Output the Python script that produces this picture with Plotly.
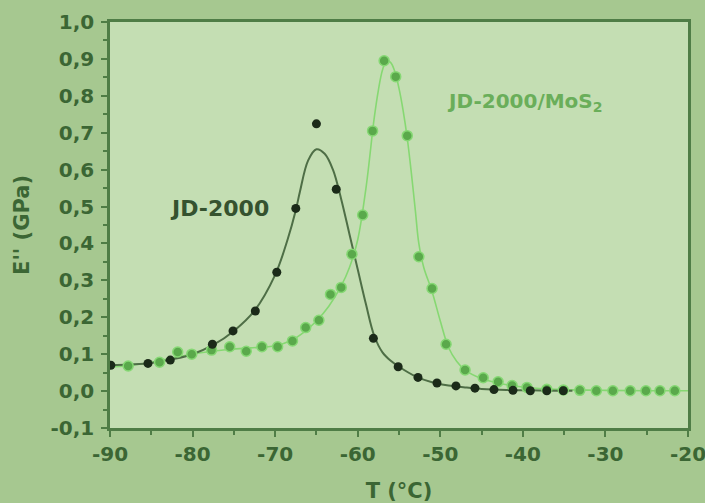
import plotly.graph_objects as go

# JD-2000 measured points
jd_x = [-89.9, -85.4, -82.7, -77.6, -75.1, -72.4, -69.8, -67.5, -65.0, -62.6,
        -58.1, -55.1, -52.7, -50.4, -48.1, -45.8, -43.5, -41.2, -39.1, -37.1, -35.1]
jd_y = [0.070, 0.075, 0.084, 0.127, 0.163, 0.217, 0.322, 0.495, 0.724, 0.547,
        0.143, 0.066, 0.037, 0.022, 0.014, 0.008, 0.004, 0.002, 0.001, 0.001, 0.001]

# JD-2000 fitted curve
jdc_x = [-90, -87.5, -85, -82.5, -80, -77.5, -75, -72.5, -70, -68.5, -67.5, -67, -66, -65,
         -64, -63, -62, -61, -60, -59, -58, -57, -56, -55, -53, -51, -49, -47, -45,
         -42, -39, -36, -34]
jdc_y = [0.070, 0.072, 0.076, 0.086, 0.100, 0.125, 0.163, 0.218, 0.315, 0.41, 0.49, 0.54,
         0.625, 0.655, 0.643, 0.600, 0.520, 0.425, 0.330, 0.235, 0.150, 0.105, 0.082,
         0.066, 0.040, 0.024, 0.015, 0.010, 0.006, 0.003, 0.002, 0.001, 0.001]

# JD-2000/MoS2 measured points
ms_x = [-87.8, -84.0, -81.8, -80.1, -77.7, -75.5, -73.5, -71.6, -69.7, -67.9, -66.3,
        -64.7, -63.3, -62.0, -60.7, -59.4, -58.2, -56.8, -55.4, -54.0, -52.6, -51.0,
        -49.3, -47.0, -44.8, -43.0, -41.3, -39.5, -37.1, -35.1, -33.1, -31.1, -29.1,
        -27.0, -25.1, -23.4, -21.6]
ms_y = [0.068, 0.078, 0.106, 0.100, 0.111, 0.120, 0.108, 0.120, 0.120, 0.136, 0.172,
        0.192, 0.262, 0.281, 0.371, 0.477, 0.705, 0.895, 0.852, 0.692, 0.364, 0.278,
        0.127, 0.057, 0.036, 0.025, 0.015, 0.010, 0.005, 0.003, 0.002, 0.001, 0.001,
        0.001, 0.001, 0.001, 0.001]

# JD-2000/MoS2 fitted curve
msc_x = [-90, -88, -85, -82, -79, -76, -73, -70, -68, -66.5, -65, -63.5, -62, -61, -60,
         -59, -58, -57.5, -57, -56.5, -56, -55.5, -55, -54.5, -54, -53.5, -53, -52.6,
         -52, -51, -50, -49, -48, -47, -45, -43, -41, -38, -35, -30, -25, -20]
msc_y = [0.066, 0.068, 0.078, 0.092, 0.104, 0.112, 0.117, 0.123, 0.138, 0.160, 0.190,
         0.230, 0.285, 0.335, 0.410, 0.550, 0.740, 0.815, 0.870, 0.895, 0.890, 0.865,
         0.820, 0.760, 0.685, 0.590, 0.485, 0.400, 0.335, 0.270, 0.190, 0.118, 0.080,
         0.057, 0.034, 0.022, 0.014, 0.007, 0.004, 0.002, 0.001, 0.001]

x_tickvals = [-90, -80, -70, -60, -50, -40, -30, -20]
x_ticktext = ["-90", "-80", "-70", "-60", "-50", "-40", "-30", "-20"]
y_tickvals = [-0.1, 0.0, 0.1, 0.2, 0.3, 0.4, 0.5, 0.6, 0.7, 0.8, 0.9, 1.0]
y_ticktext = ["-0,1", "0,0", "0,1", "0,2", "0,3", "0,4", "0,5", "0,6", "0,7", "0,8", "0,9", "1,0"]

FONT = "DejaVu Sans"
AX = "#4f7d46"
TXT = "#3b6634"

fig = go.Figure()
fig.add_trace(go.Scatter(x=msc_x, y=msc_y, mode="lines", line=dict(color="#86d872", width=1.6, shape="spline"),
                         showlegend=False, hoverinfo="skip"))
fig.add_trace(go.Scatter(x=jdc_x, y=jdc_y, mode="lines", line=dict(color="#4e6e46", width=2, shape="spline"),
                         showlegend=False, hoverinfo="skip"))
fig.add_trace(go.Scatter(x=ms_x, y=ms_y, mode="markers", name="JD-2000/MoS2",
                         marker=dict(color="#5aa94b", size=10, line=dict(color="#86d874", width=1.5)),
                         showlegend=False))
fig.add_trace(go.Scatter(x=jd_x, y=jd_y, mode="markers", name="JD-2000",
                         marker=dict(color="#1b2a19", size=9, line=dict(width=0)),
                         showlegend=False))

fig.add_annotation(x=-83.0, y=0.496, text="<b>JD-2000</b>", showarrow=False, xanchor="left", yanchor="middle",
                   font=dict(family=FONT, size=22, color="#35522f"))
fig.add_annotation(x=-49.4, y=0.784, text="<b>JD-2000/MoS<sub>2</sub></b>", showarrow=False, xanchor="left",
                   yanchor="middle", font=dict(family=FONT, size=20, color="#6aae5a"))

fig.update_layout(
    width=705, height=503,
    margin=dict(l=110, r=17, t=22, b=75),
    paper_bgcolor="#a6c890",
    plot_bgcolor="#c4deb3",
    font=dict(family=FONT, size=20, color=TXT),
)
fig.update_xaxes(range=[-90, -20], tickvals=x_tickvals, ticktext=x_ticktext, ticks="outside", ticklen=6,
                 tickwidth=2, tickcolor=AX, showline=True, linecolor=AX, linewidth=2.5, mirror=True,
                 showgrid=False, zeroline=False, ticklabeloverflow="allow", automargin=False,
                 minor=dict(dtick=5, ticks="outside", ticklen=4, tickcolor=AX, tickwidth=1.5),
                 tickfont=dict(family=FONT, size=20, color=TXT, weight="bold"),
                 title=dict(text="T (°C)", font=dict(family=FONT, size=21, color=TXT, weight="bold"),
                            standoff=22))
fig.update_yaxes(range=[-0.1, 1.0], tickvals=y_tickvals, ticktext=y_ticktext, ticks="outside", ticklen=6,
                 tickwidth=2, tickcolor=AX, showline=True, linecolor=AX, linewidth=2.5, mirror=True,
                 showgrid=False, zeroline=False, ticklabelstandoff=3, automargin=False,
                 minor=dict(dtick=0.05, ticks="outside", ticklen=4, tickcolor=AX, tickwidth=1.5),
                 tickfont=dict(family=FONT, size=20, color=TXT, weight="bold"),
                 title=dict(text="E'' (GPa)", font=dict(family=FONT, size=21, color=TXT, weight="bold"),
                            standoff=16))

fig.write_html("out.html")
